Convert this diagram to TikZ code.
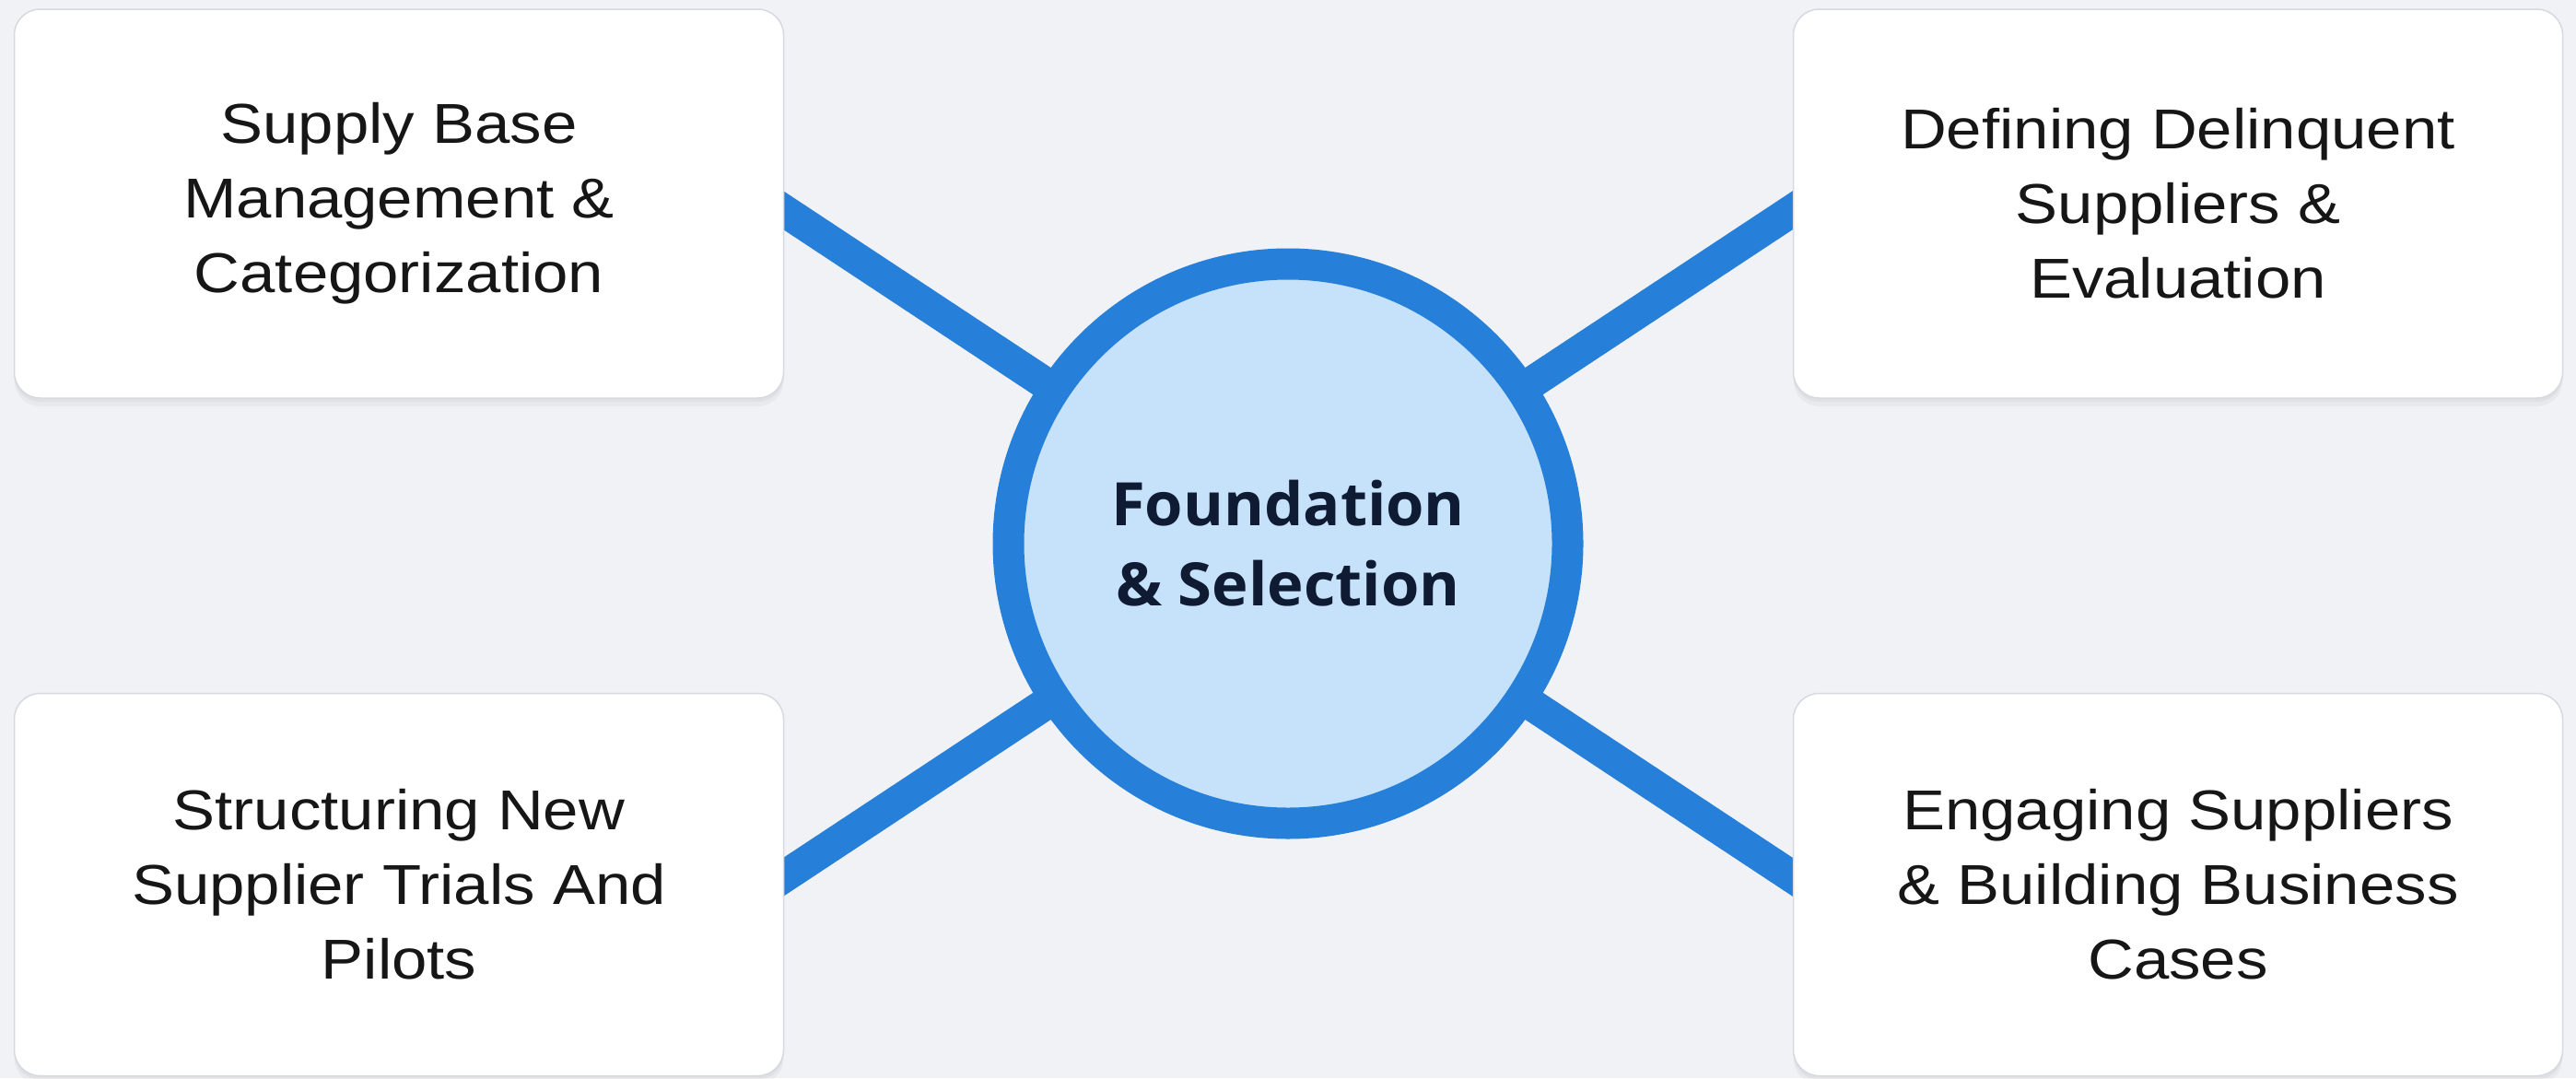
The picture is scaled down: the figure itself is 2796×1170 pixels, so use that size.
\documentclass[tikz,border=0pt]{standalone}
\usepackage{fontspec}
\setmainfont{Liberation Sans}[FakeStretch=1.13]
\newfontfamily\ctrfont{Open Sans}[FakeStretch=1.03]
\usetikzlibrary{shadows}
\definecolor{bgc}{HTML}{F0F2F5}
\definecolor{blu}{HTML}{2680DA}
\definecolor{lblu}{HTML}{C6E2FA}
\definecolor{navy}{HTML}{0F1B33}
\definecolor{boxline}{HTML}{D6DAE0}
\definecolor{txt}{HTML}{161616}
\pgfdeclarelayer{back}
\pgfdeclarelayer{bg}
\pgfsetlayers{back,bg,main}
\begin{document}
\begin{tikzpicture}[x=1pt,y=-1pt,
  card/.style={draw=boxline, line width=1.5, fill=white, rounded corners=28,
    minimum width=835, minimum height=422, inner sep=0, align=center,
    text=txt, font=\fontsize{61}{81}\selectfont,
    general shadow={fill=black, opacity=0.035, shadow yshift=-4pt},
    general shadow={fill=black, opacity=0.035, shadow yshift=-9pt}},
  hub/.style={circle, draw=blu, line width=34, fill=lblu, minimum size=607,
    inner sep=0, align=center, text=navy,
    font=\ctrfont\bfseries\fontsize{65}{87}\selectfont},
  conn/.style={draw=blu, line width=35}]
\useasboundingbox (0,0) rectangle (2796,1170);
\begin{pgfonlayer}{back}
  \fill[bgc] (0,0) rectangle (2796,1170);
\end{pgfonlayer}

\coordinate (ptl) at (800,195);
\coordinate (ptr) at (1996,195);
\coordinate (pbl) at (800,985);
\coordinate (pbr) at (1996,985);

\node[hub] (c) at (1398,590) {Foundation\\\& Selection};

\node[card] (tl) at (433,221) {Supply Base\\Management \&\\Categorization};
\node[card] (tr) at (2364,221) {Defining Delinquent\\Suppliers \&\\Evaluation};
\node[card, minimum height=415] (bl) at (433,960) {Structuring New\\Supplier Trials And\\Pilots};
\node[card, minimum height=415] (br) at (2364,960) {Engaging Suppliers\\\& Building Business\\Cases};

\begin{pgfonlayer}{bg}
  \draw[conn] (c.center) -- (ptl);
  \draw[conn] (c.center) -- (ptr);
  \draw[conn] (c.center) -- (pbl);
  \draw[conn] (c.center) -- (pbr);
\end{pgfonlayer}
\end{tikzpicture}
\end{document}
